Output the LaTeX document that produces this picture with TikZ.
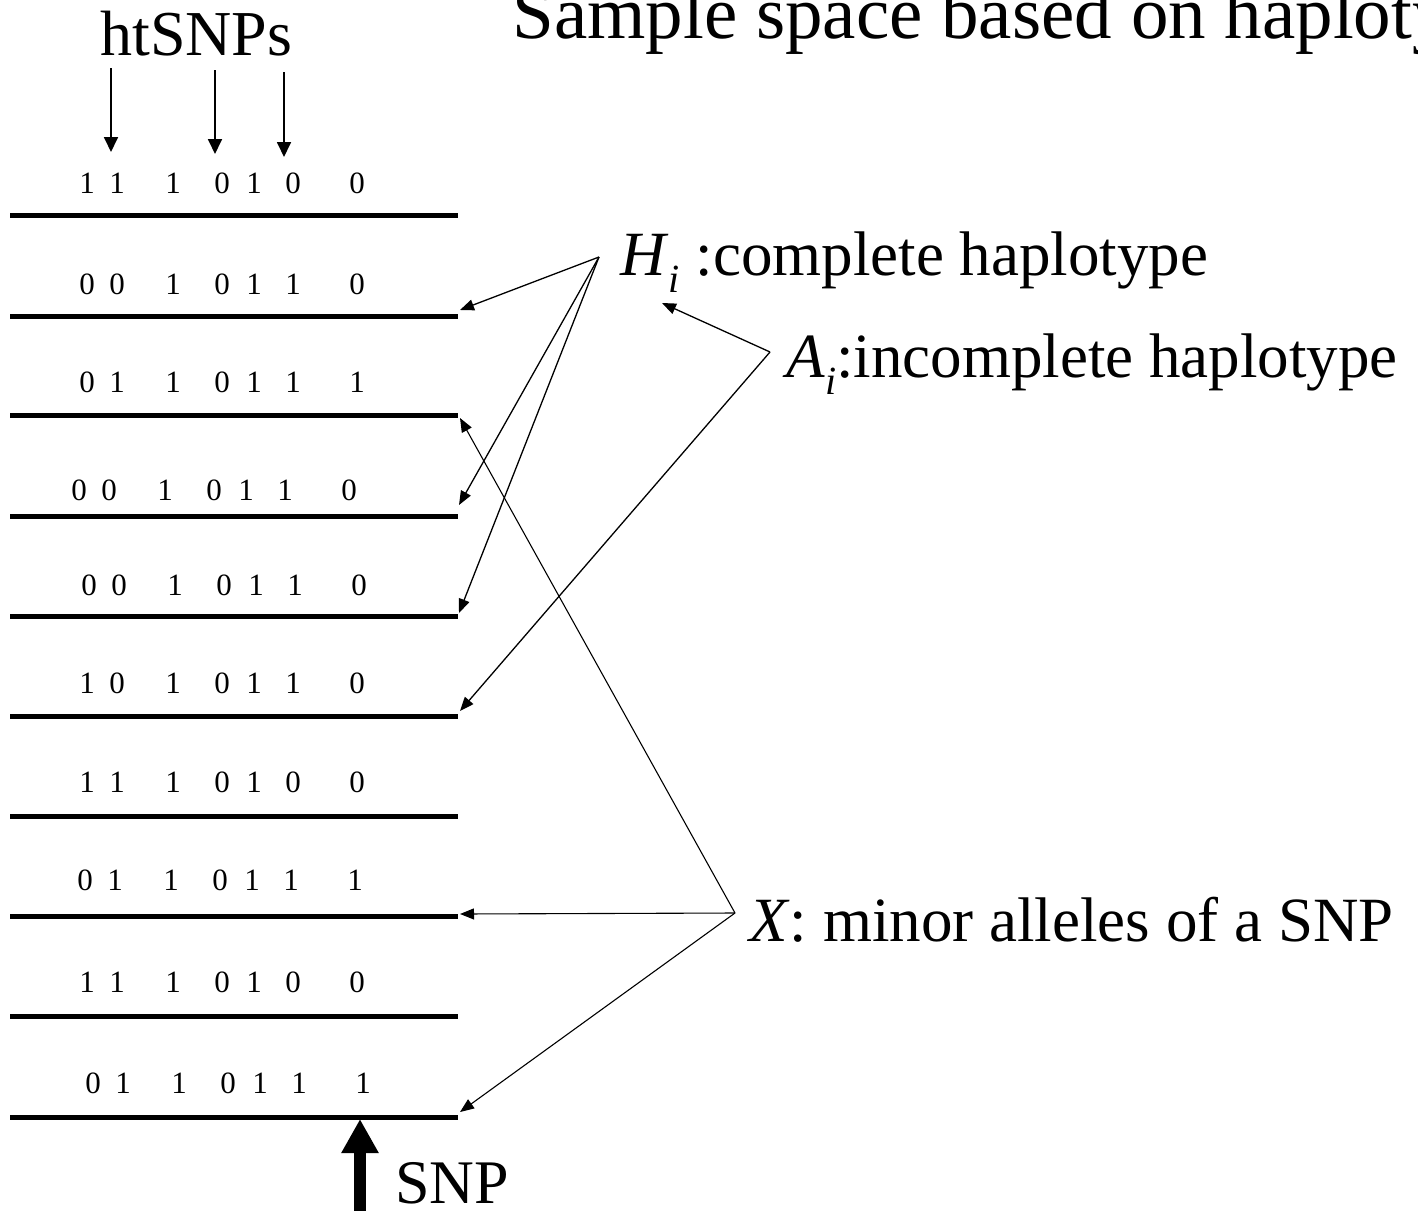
\documentclass[tikz,border=0pt]{standalone}
\usepackage{fontspec}
\setmainfont{Liberation Serif}
\usetikzlibrary{arrows.meta}
\newcommand{\subidx}{\raisebox{-8.5pt}{\fontsize{20}{20}\selectfont\itshape i}}
\begin{document}
\begin{tikzpicture}[x=0.5pt,y=-0.5pt,
  hap/.style={line width=2.5pt},
  ptr/.style={line width=0.65pt,-{Triangle[length=7pt,width=5.5pt]}},
  htptr/.style={line width=0.9pt,-{Triangle[length=7.5pt,width=7pt]}},
  dig/.style={anchor=base,inner sep=0pt,font=\fontsize{15.5}{15.5}\selectfont},
  big/.style={anchor=base west,inner sep=0pt,font=\fontsize{31.5}{31.5}\selectfont}]
\useasboundingbox (0,0) rectangle (1418,1210);
\clip (0,0) rectangle (1418,1210);

% title and labels
\node[anchor=base west,inner sep=0pt,font=\fontsize{37.5}{37.5}\selectfont] (title) at (512,38) {Sample space based on haplotypes};
\node[anchor=base west,inner sep=0pt,font=\fontsize{32}{32}\selectfont] (ht) at (100,55) {htSNPs};
\node[big] (Hlab) at (620,275) {\textit{H}\subidx\ :complete haplotype};
\node[big] (Alab) at (786,377) {\textit{A}\subidx:incomplete haplotype};
\node[big] (Xlab) at (749,941) {\textit{X}: minor alleles of a SNP};
\node[anchor=base west,inner sep=0pt,font=\fontsize{31}{31}\selectfont] (snp) at (395,1203) {SNP};

% haplotype lines
\foreach \y [count=\k] in {215,316,415,516,616,716,816,916,1016,1117} {
  \coordinate (L\k) at (10,\y);
  \coordinate (R\k) at (458,\y);
  \draw[hap] (L\k) -- (R\k);
}

% digits
\foreach \a/\b/\c/\d/\e/\f/\g/\s/\yb [count=\r] in {
  1/1/1/0/1/0/0/0/193,
  0/0/1/0/1/1/0/0/294,
  0/1/1/0/1/1/1/0/392,
  0/0/1/0/1/1/0/-8/500,
  0/0/1/0/1/1/0/2/595,
  1/0/1/0/1/1/0/0/693,
  1/1/1/0/1/0/0/0/792,
  0/1/1/0/1/1/1/-2/890,
  1/1/1/0/1/0/0/0/992,
  0/1/1/0/1/1/1/6/1093} {
  \node[dig] (d\r-1) at (87+\s,\yb) {\a};
  \node[dig] (d\r-2) at (117+\s,\yb) {\b};
  \node[dig] (d\r-3) at (173+\s,\yb) {\c};
  \node[dig] (d\r-4) at (222+\s,\yb) {\d};
  \node[dig] (d\r-5) at (254+\s,\yb) {\e};
  \node[dig] (d\r-6) at (293+\s,\yb) {\f};
  \node[dig] (d\r-7) at (357+\s,\yb) {\g};
}

% htSNP arrows
\coordinate (hs1) at (111,68);  \coordinate (he1) at (111,152);
\coordinate (hs2) at (215,70);  \coordinate (he2) at (215,154);
\coordinate (hs3) at (284,72);  \coordinate (he3) at (284,157);
\foreach \i in {1,2,3} \draw[htptr] (hs\i) -- (he\i);

% H_i pointers
\coordinate (Hap) at (599,257);
\coordinate (tH2) at (460,310);
\coordinate (tH4) at (459,505);
\coordinate (tH5) at (459,613);
\draw[ptr] (Hap) -- (tH2);
\draw[ptr] (Hap) -- (tH4);
\draw[ptr] (Hap) -- (tH5);

% A_i pointers
\coordinate (Aap) at (770,352);
\coordinate (tAH) at (662,303);
\coordinate (tA6) at (460,711);
\draw[ptr] (Aap) -- (tAH);
\draw[ptr] (Aap) -- (tA6);

% X pointers
\coordinate (Xap) at (735,913);
\coordinate (tX3) at (460,418);
\coordinate (tX8) at (460,914);
\coordinate (tX10) at (460,1112);
\draw[ptr,line width=0.55pt] (Xap) -- (tX3);
\draw[ptr,line width=0.55pt] (Xap) -- (tX8);
\draw[ptr,line width=0.55pt] (Xap) -- (tX10);

% SNP thick arrow
\coordinate (snpb) at (360,1215);
\coordinate (snpt) at (360,1119);
\draw[line width=6pt,-{Triangle[length=17pt,width=17.5pt]}] (snpb) -- (snpt);
\end{tikzpicture}
\end{document}
